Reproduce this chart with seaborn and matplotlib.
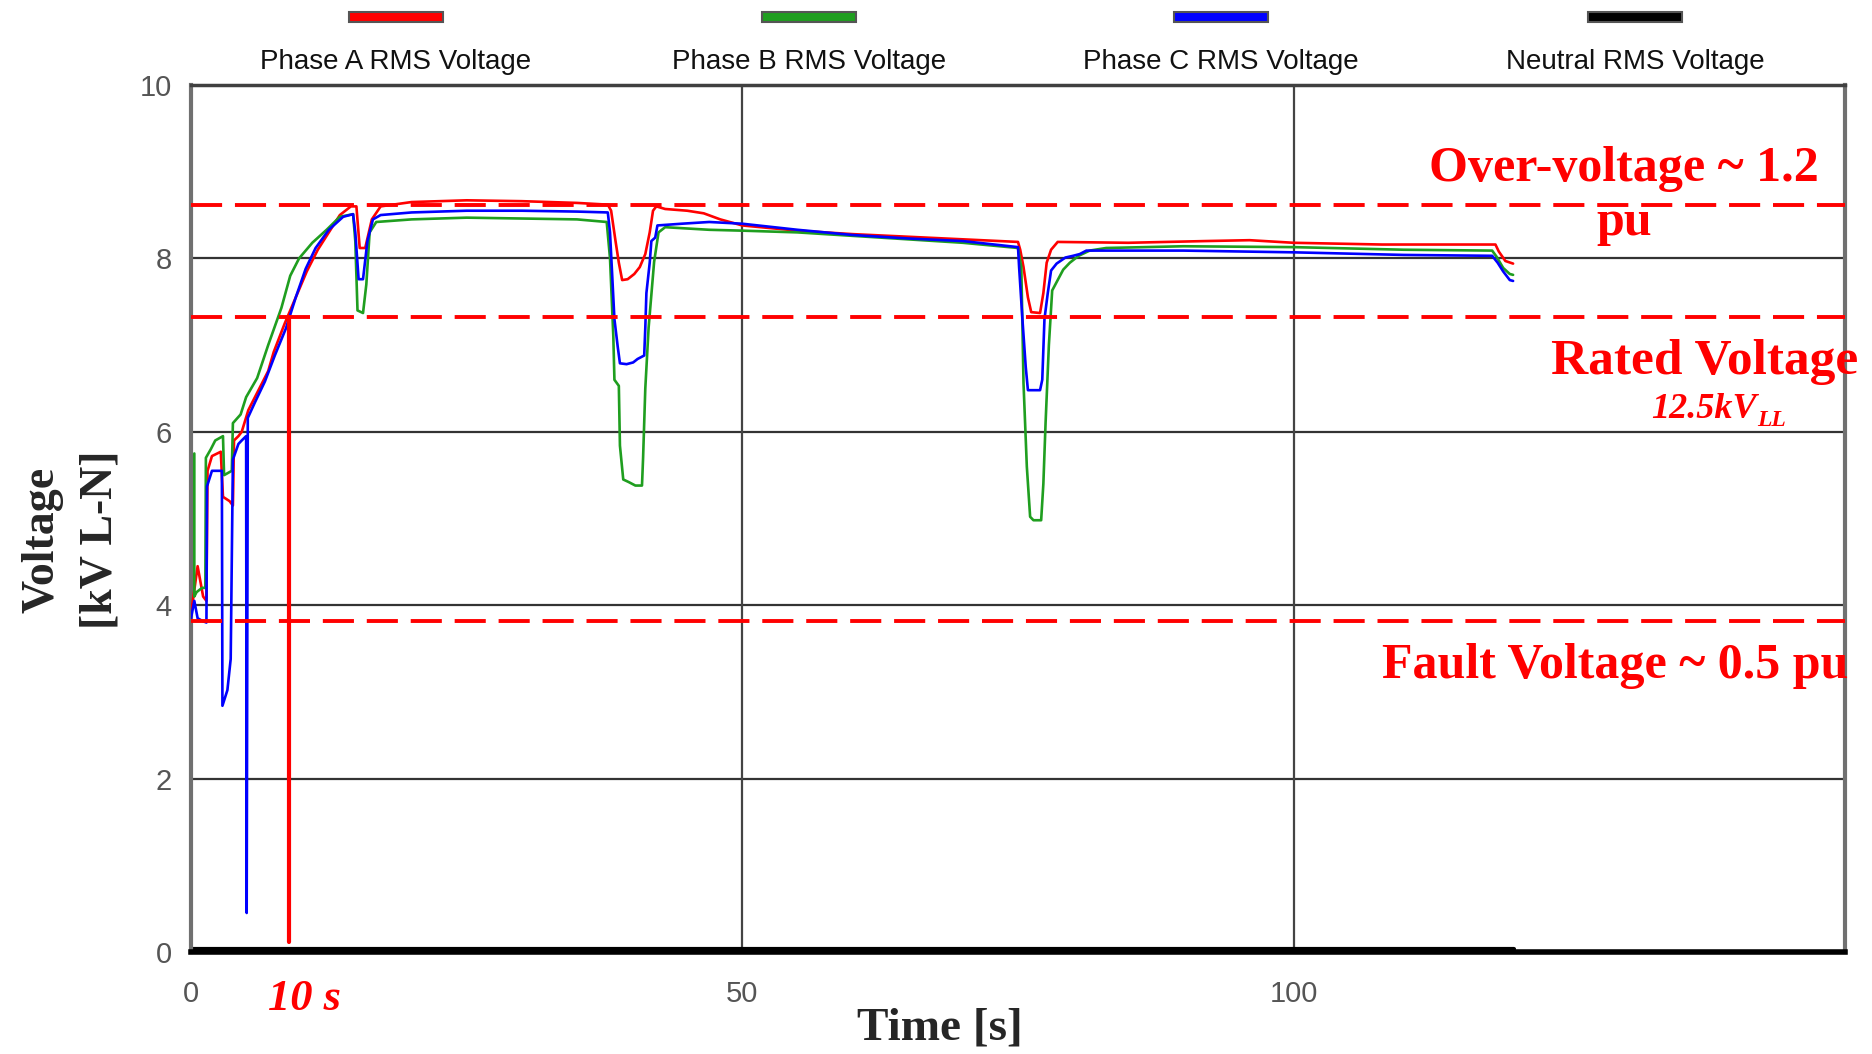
import pandas as pd
import matplotlib.pyplot as plt
import seaborn as sns
from matplotlib.patches import Rectangle

# Phase A (red) RMS voltage, kV L-N
t_a = [0.0, 0.6, 1.1, 1.4, 1.5, 1.9, 2.7, 2.9, 3.5, 3.8, 3.9, 4.3, 4.6, 5.2, 6.0, 7.0, 7.5, 8.5,
       9.5, 10.5, 11.5, 12.5, 13.5, 14.5, 15.0, 15.3, 15.8, 16.4, 17.2, 20, 25, 30, 35, 37.8,
       38.1, 38.5, 38.8, 39.1, 39.6, 40.2, 40.7, 41.2, 41.6, 41.9, 42.2, 43, 45, 46.5, 48, 50,
       55, 60, 65, 70, 75, 75.2, 75.5, 75.9, 76.2, 77.0, 77.3, 77.6, 78.0, 78.6, 85, 92, 96,
       100, 108, 118.3, 118.6, 119.2, 119.9]
v_a = [3.9, 4.45, 4.1, 4.05, 5.55, 5.72, 5.77, 5.25, 5.2, 5.15, 5.9, 5.95, 6.0, 6.25, 6.45, 6.7,
       6.92, 7.25, 7.55, 7.85, 8.1, 8.3, 8.5, 8.6, 8.6, 8.12, 8.12, 8.45, 8.6, 8.65, 8.67, 8.66,
       8.64, 8.62, 8.55, 8.2, 7.95, 7.75, 7.76, 7.82, 7.9, 8.05, 8.3, 8.55, 8.6, 8.57, 8.55,
       8.52, 8.45, 8.38, 8.32, 8.28, 8.25, 8.22, 8.19, 8.1, 7.9, 7.55, 7.38, 7.37, 7.6, 7.95,
       8.1, 8.19, 8.18, 8.2, 8.21, 8.18, 8.16, 8.16, 8.08, 7.97, 7.94]

# Phase B (green)
t_b = [0.3, 0.3, 0.5, 1.0, 1.3, 1.35, 1.8, 2.2, 2.9, 3.0, 3.7, 3.8, 4.5, 5.0, 6.0, 7.0, 8.2, 9.0,
       9.8, 11.0, 12.3, 13.5, 14.7, 14.9, 15.1, 15.6, 15.9, 16.2, 16.8, 20, 25, 30, 35, 37.7,
       38.0, 38.3, 38.4, 38.8, 38.9, 39.2, 39.7, 40.3, 40.9, 41.0, 41.2, 41.5, 42.0, 42.4, 43,
       47, 50, 55, 60, 65, 70, 75, 75.3, 75.5, 75.8, 76.1, 76.4, 77.1, 77.3, 77.5, 77.8, 78.1,
       78.6, 79.1, 79.7, 80.5, 81.5, 83, 90, 100, 110, 118, 118.4, 119.0, 119.6, 119.9]
v_b = [5.75, 4.1, 4.15, 4.2, 4.2, 5.7, 5.8, 5.9, 5.95, 5.5, 5.55, 6.1, 6.2, 6.4, 6.62, 7.0, 7.43,
       7.8, 8.0, 8.18, 8.33, 8.48, 8.51, 8.2, 7.4, 7.37, 7.7, 8.3, 8.42, 8.45, 8.47, 8.46, 8.45,
       8.42, 8.0, 7.1, 6.6, 6.53, 5.84, 5.45, 5.42, 5.38, 5.38, 5.7, 6.5, 7.2, 7.96, 8.3, 8.36,
       8.33, 8.32, 8.3, 8.26, 8.22, 8.18, 8.12, 7.9, 6.56, 5.6, 5.02, 4.98, 4.98, 5.4, 6.1, 7.0,
       7.63, 7.75, 7.87, 7.95, 8.03, 8.09, 8.12, 8.14, 8.13, 8.1, 8.09, 8.02, 7.89, 7.82, 7.81]

# Phase C (blue)
t_c = [0.0, 0.3, 0.6, 1.0, 1.4, 1.45, 1.9, 2.8, 2.85, 3.3, 3.6, 3.8, 4.3, 4.6, 5.0, 5.05, 5.15,
       5.8, 6.7, 7.6, 8.6, 9.5, 10.4, 11.3, 12.5, 13.8, 14.7, 14.9, 15.2, 15.6, 16.0, 16.5,
       17.2, 20, 25, 30, 35, 37.8, 38.0, 38.2, 38.4, 38.7, 38.9, 39.5, 40.1, 40.5, 41.1, 41.2,
       41.3, 41.6, 41.75, 42.1, 42.3, 44.5, 47, 50, 55, 60, 65, 70, 75, 75.1, 75.4, 75.7, 75.9,
       77.0, 77.2, 77.4, 77.7, 78.0, 78.5, 79.3, 80.0, 80.6, 81.2, 90, 100, 110, 118, 118.5,
       119.0, 119.6, 119.9]
v_c = [3.85, 4.05, 3.85, 3.82, 3.8, 5.37, 5.55, 5.55, 2.84, 3.02, 3.38, 5.68, 5.86, 5.9, 5.95,
       0.45, 6.16, 6.34, 6.58, 6.88, 7.19, 7.55, 7.88, 8.12, 8.33, 8.48, 8.51, 8.3, 7.76, 7.76,
       8.2, 8.45, 8.5, 8.53, 8.55, 8.55, 8.54, 8.53, 8.3, 7.8, 7.3, 6.98, 6.79, 6.78, 6.8, 6.84,
       6.88, 7.2, 7.6, 7.95, 8.2, 8.24, 8.38, 8.4, 8.42, 8.4, 8.33, 8.27, 8.23, 8.2, 8.13, 7.9,
       7.3, 6.75, 6.48, 6.48, 6.6, 7.3, 7.6, 7.86, 7.94, 8.01, 8.03, 8.05, 8.09, 8.09, 8.07,
       8.04, 8.03, 7.95, 7.85, 7.75, 7.74]

# Neutral (black)
t_n = [0.0, 120.0]
v_n = [0.03, 0.03]

series_names = ['Phase A RMS Voltage', 'Phase B RMS Voltage', 'Phase C RMS Voltage', 'Neutral RMS Voltage']
series_colors = ['#ff0000', '#1f9e1f', '#0000ff', '#000000']

# reference levels and annotations
over_voltage = 8.62
rated_voltage = 7.32
fault_voltage = 3.82
event_time = 8.9
event_low = 0.12

df = pd.concat([
    pd.DataFrame({'Time': t_a, 'Voltage': v_a, 'Series': series_names[0]}),
    pd.DataFrame({'Time': t_b, 'Voltage': v_b, 'Series': series_names[1]}),
    pd.DataFrame({'Time': t_c, 'Voltage': v_c, 'Series': series_names[2]}),
])
df_n = pd.DataFrame({'Time': t_n, 'Voltage': v_n})

sns.set_style('white')
plt.rcParams['font.family'] = ['Liberation Sans', 'DejaVu Sans']

W, H = 1872, 1054
fig = plt.figure(figsize=(W / 100, H / 100), dpi=100)
ax = fig.add_axes([191 / W, 1 - 952 / H, (1845 - 191) / W, (952 - 85) / H])

# grid
for y in [2, 4, 6, 8]:
    ax.axhline(y, color='#333333', lw=1.6, zorder=1)
for x in [50, 100]:
    ax.axvline(x, color='#444444', lw=1.6, zorder=1)

# threshold lines
for y in [over_voltage, rated_voltage, fault_voltage]:
    ax.axhline(y, color='#ff0000', lw=2.8, dashes=(8, 3.3), zorder=4)

sns.lineplot(data=df_n, x='Time', y='Voltage', color='#000000', lw=3, estimator=None,
             sort=False, ax=ax, zorder=2)
sns.lineplot(data=df, x='Time', y='Voltage', hue='Series', palette=series_colors[:3],
             estimator=None, sort=False, lw=1.9, legend=False, ax=ax, zorder=3)

ax.plot([event_time, event_time], [event_low, rated_voltage], color='#ff0000', lw=3, zorder=4)

ax.set_xlim(0, 150)
ax.set_ylim(0, 10)
ax.set_xlabel('')
ax.set_ylabel('')

ax.set_xticks([0, 50, 100])
ax.set_xticks([10, 20, 30, 40, 60, 70, 80, 90, 110, 120, 130, 140], minor=True)
ax.set_yticks([0, 2, 4, 6, 8, 10])
ax.set_yticks([1, 3, 5, 7, 9], minor=True)
ax.tick_params(axis='both', which='major', direction='out', length=10, width=1.5,
               color='#444444', labelsize=21, labelcolor='#555555', pad=4)
ax.tick_params(axis='x', which='major', pad=10)
ax.tick_params(axis='both', which='minor', direction='in', length=9, width=1.5, color='#222222')

ax.spines['left'].set_color('#707070')
ax.spines['left'].set_linewidth(3)
ax.spines['right'].set_color('#707070')
ax.spines['right'].set_linewidth(3)
ax.spines['top'].set_color('#404040')
ax.spines['top'].set_linewidth(2.5)
ax.spines['bottom'].set_color('#000000')
ax.spines['bottom'].set_linewidth(4)

# legend across the top
leg_x = [396, 809, 1221, 1635]
for name, col, x in zip(series_names, series_colors, leg_x):
    fig.add_artist(Rectangle(((x - 47) / W, 1 - 22 / H), 94 / W, 10 / H, transform=fig.transFigure,
                             facecolor=col, edgecolor='#555555', lw=1.5))
    fig.text(x / W, 1 - 69 / H, name, ha='center', va='baseline', fontsize=20, color='#111111')

serif = ['Liberation Serif', 'DejaVu Serif']
fig.text(72 / W, 1 - 540 / H, 'Voltage\n[kV L-N]', rotation=90, ha='center', va='center',
         fontsize=33, fontweight='bold', family=serif, linespacing=1.5)
fig.text(940 / W, 1 - 1040 / H, 'Time [s]', ha='center', va='baseline', fontsize=34,
         fontweight='bold', family=serif)
fig.text(304 / W, 1 - 1010 / H, '10 s', ha='center', va='baseline', fontsize=32,
         fontweight='bold', style='italic', family=serif, color='#ff0000')

red = '#ff0000'
fig.text(1624 / W, 1 - 181 / H, 'Over-voltage ~ 1.2', ha='center', va='baseline', fontsize=36,
         fontweight='bold', family=serif, color=red)
fig.text(1624 / W, 1 - 235 / H, 'pu', ha='center', va='baseline', fontsize=36,
         fontweight='bold', family=serif, color=red)
fig.text(1705 / W, 1 - 374 / H, 'Rated Voltage', ha='center', va='baseline', fontsize=37,
         fontweight='bold', family=serif, color=red)
fig.text(1757 / W, 1 - 418 / H, '12.5kV', ha='right', va='baseline', fontsize=26,
         fontweight='bold', style='italic', family=serif, color=red)
fig.text(1757 / W, 1 - 426 / H, 'LL', ha='left', va='baseline', fontsize=17,
         fontweight='bold', style='italic', family=serif, color=red)
fig.text(1615 / W, 1 - 678 / H, 'Fault Voltage ~ 0.5 pu', ha='center', va='baseline', fontsize=36,
         fontweight='bold', family=serif, color=red)

fig.savefig('out.png', dpi=100)
